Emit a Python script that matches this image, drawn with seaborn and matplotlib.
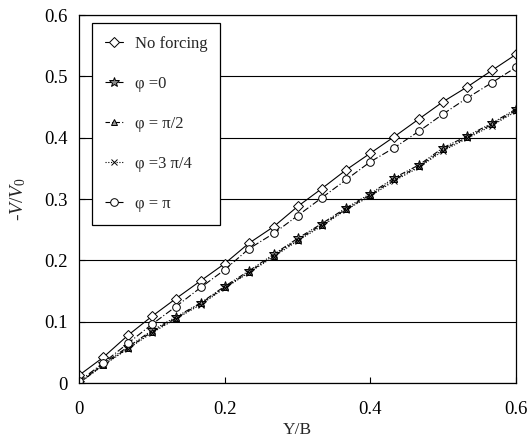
import numpy as np
import pandas as pd
import seaborn as sns
import matplotlib
matplotlib.use('Agg')
import matplotlib.pyplot as plt

# Y/B positions (every 1/30)
yb = [0, 0.033, 0.067, 0.1, 0.133, 0.167, 0.2, 0.233, 0.267, 0.3,
      0.333, 0.367, 0.4, 0.433, 0.467, 0.5, 0.533, 0.567, 0.6]

no_forcing = [0.013, 0.042, 0.078, 0.109, 0.138, 0.167, 0.195, 0.228, 0.255, 0.288,
              0.317, 0.348, 0.375, 0.402, 0.431, 0.459, 0.483, 0.510, 0.536]
phi_0 = [0.0, 0.032, 0.059, 0.086, 0.108, 0.131, 0.158, 0.183, 0.210, 0.236,
         0.260, 0.286, 0.309, 0.335, 0.356, 0.384, 0.403, 0.424, 0.447]
phi_pi2 = [0.0, 0.030, 0.057, 0.084, 0.106, 0.130, 0.156, 0.181, 0.208, 0.234,
           0.258, 0.284, 0.307, 0.332, 0.354, 0.381, 0.401, 0.422, 0.445]
phi_3pi4 = [0.0, 0.029, 0.056, 0.082, 0.105, 0.128, 0.155, 0.180, 0.206, 0.232,
            0.256, 0.283, 0.305, 0.330, 0.352, 0.379, 0.399, 0.420, 0.443]
phi_pi = [0.003, 0.033, 0.065, 0.096, 0.125, 0.156, 0.185, 0.219, 0.244, 0.273,
          0.302, 0.332, 0.361, 0.384, 0.411, 0.439, 0.465, 0.490, 0.515]

labels = ['No forcing', 'φ =0', 'φ = π/2', 'φ =3 π/4', 'φ = π']

sns.set_style('ticks')
plt.rcParams['font.family'] = ['Liberation Serif', 'DejaVu Serif']
plt.rcParams['mathtext.fontset'] = 'custom'
plt.rcParams['mathtext.it'] = 'Liberation Serif:italic'
plt.rcParams['mathtext.rm'] = 'Liberation Serif'

fig = plt.figure(figsize=(5.31, 4.43), dpi=100)
ax = fig.add_axes([0.149, 0.135, 0.823, 0.831])

# style per series: line style, marker, face colour
styles = [
    dict(linestyle='-', marker='D', markersize=5, markerfacecolor='white'),
    dict(linestyle=(0, (5, 1.5, 1, 1.5, 1, 1.5)), marker='*', markersize=7, markerfacecolor='#888888'),
    dict(linestyle=(0, (4, 2, 1, 2)), marker='^', markersize=5, markerfacecolor='#999999'),
    dict(linestyle=(0, (1, 1.5)), marker='x', markersize=5, markerfacecolor='none'),
    dict(linestyle=(0, (6, 2, 1, 2)), marker='o', markersize=5.5, markerfacecolor='white'),
]
series = [no_forcing, phi_0, phi_pi2, phi_3pi4, phi_pi]
for vals, lab, st in zip(series, labels, styles):
    df = pd.DataFrame({'x': yb, 'y': vals})
    sns.lineplot(data=df, x='x', y='y', ax=ax, color='black', linewidth=0.8,
                 markeredgecolor='black', markeredgewidth=0.7, label=lab, **st)

ax.set_xlim(0, 0.6)
ax.set_ylim(0, 0.6)
ax.set_xticks([0, 0.2, 0.4, 0.6])
ax.set_xticklabels(['0', '0.2', '0.4', '0.6'])
ax.set_yticks([0, 0.1, 0.2, 0.3, 0.4, 0.5, 0.6])
ax.set_yticklabels(['0', '0.1', '0.2', '0.3', '0.4', '0.5', '0.6'])
ax.tick_params(direction='in', length=4, width=0.8, labelsize=13.5, pad=8, colors='black')
ax.tick_params(axis='x', pad=13)
ax.yaxis.grid(True, color='black', linewidth=0.8)
ax.set_axisbelow(True)
for sp in ax.spines.values():
    sp.set_color('black')
    sp.set_linewidth(0.9)

ax.set_xlabel('Y/B', fontsize=12.5, labelpad=3)
ax.set_ylabel(r'-$V/V_0$', fontsize=14, labelpad=12)

leg = ax.legend(loc='upper left', bbox_to_anchor=(0.03, 0.978), fontsize=12,
                labelspacing=1.45, handlelength=1.1, handletextpad=0.7,
                borderpad=0.75, borderaxespad=0, fancybox=False, framealpha=1,
                edgecolor='black')
leg.get_frame().set_linewidth(0.9)

fig.savefig('out.png', dpi=100)
